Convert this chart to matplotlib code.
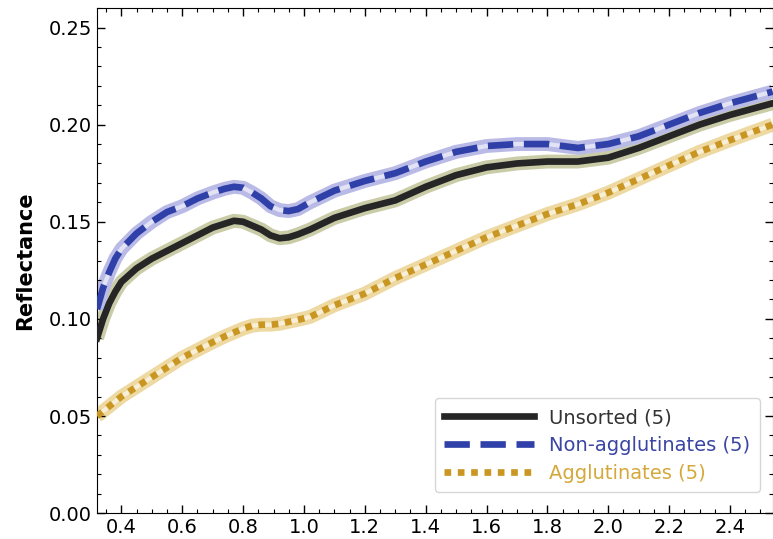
import matplotlib.pyplot as plt
import numpy as np

# wavelength (micron)
wl = [0.32, 0.34, 0.36, 0.38, 0.40, 0.45, 0.50, 0.55, 0.60, 0.65, 0.70, 0.74,
      0.77, 0.80, 0.83, 0.86, 0.89, 0.92, 0.95, 0.98, 1.02, 1.10, 1.20, 1.30,
      1.40, 1.50, 1.60, 1.70, 1.80, 1.90, 2.00, 2.10, 2.20, 2.30, 2.40, 2.54]

unsorted = [0.090, 0.100, 0.108, 0.114, 0.119, 0.126, 0.131, 0.135, 0.139, 0.143,
            0.147, 0.149, 0.1505, 0.150, 0.148, 0.146, 0.143, 0.1415, 0.142, 0.1435,
            0.146, 0.152, 0.157, 0.161, 0.168, 0.174, 0.178, 0.180, 0.181, 0.181,
            0.183, 0.188, 0.194, 0.200, 0.205, 0.211]

non_agg = [0.105, 0.116, 0.124, 0.131, 0.136, 0.144, 0.150, 0.155, 0.158, 0.162,
           0.165, 0.167, 0.168, 0.1675, 0.165, 0.162, 0.158, 0.156, 0.1555, 0.1565,
           0.160, 0.166, 0.171, 0.175, 0.181, 0.186, 0.189, 0.190, 0.190, 0.188,
           0.190, 0.194, 0.200, 0.206, 0.211, 0.217]

agg = [0.050, 0.0525, 0.055, 0.0575, 0.060, 0.065, 0.070, 0.075, 0.080, 0.084,
       0.088, 0.091, 0.093, 0.095, 0.0965, 0.097, 0.097, 0.0975, 0.0985, 0.0995,
       0.101, 0.107, 0.113, 0.121, 0.128, 0.135, 0.142, 0.148, 0.154, 0.159,
       0.165, 0.172, 0.179, 0.186, 0.192, 0.200]

labels = ["Unsorted (5)", "Non-agglutinates (5)", "Agglutinates (5)"]
colors = ["#262626", "#2f40a8", "#c99622"]
band_colors = ["#c9cca6", "#b9bbe6", "#eed9a2"]
text_colors = ["#333333", "#3b45a3", "#d4a83a"]

fig = plt.figure(figsize=(7.73, 5.39), dpi=100)
ax = fig.add_axes([0.1255, 0.048, 0.874, 0.937])

series = [unsorted, non_agg, agg]
styles = [dict(linestyle="-"), dict(dashes=(3.8, 1.6)), dict(dashes=(1, 1))]

# light envelope of the individual spectra
for y, bc in zip(series, band_colors):
    ax.plot(wl, y, color=bc, lw=10, solid_capstyle="butt", solid_joinstyle="round", zorder=1)
    ax.plot(wl, y, color="white", lw=3, alpha=0.6, solid_joinstyle="round", zorder=2)

handles = []
for y, c, lab, st in zip(series, colors, labels, styles):
    h, = ax.plot(wl, y, color=c, lw=4.8, label=lab, zorder=3,
                 solid_joinstyle="round", dash_joinstyle="round", **st)
    handles.append(h)

ax.set_xlim(0.32, 2.54)
ax.set_ylim(0, 0.26)
ax.set_xticks(np.arange(0.4, 2.41, 0.2))
ax.set_xticks(np.arange(0.35, 2.54, 0.05), minor=True)
ax.set_yticks(np.arange(0, 0.251, 0.05))
ax.set_yticks(np.arange(0, 0.261, 0.01), minor=True)
ax.tick_params(which="both", direction="in", top=True, right=True, labelsize=14)
ax.tick_params(which="major", length=6, width=1)
ax.tick_params(which="minor", length=3, width=0.8)
ax.set_ylabel("Reflectance", fontsize=15, fontweight="bold", labelpad=10)

leg = ax.legend(handles=handles, loc="lower right", fontsize=14, handlelength=4.6,
                frameon=True, borderpad=0.5, labelspacing=0.45,
                bbox_to_anchor=(0.996, 0.022))
for t, tc in zip(leg.get_texts(), text_colors):
    t.set_color(tc)

plt.savefig("out.png", dpi=100)
